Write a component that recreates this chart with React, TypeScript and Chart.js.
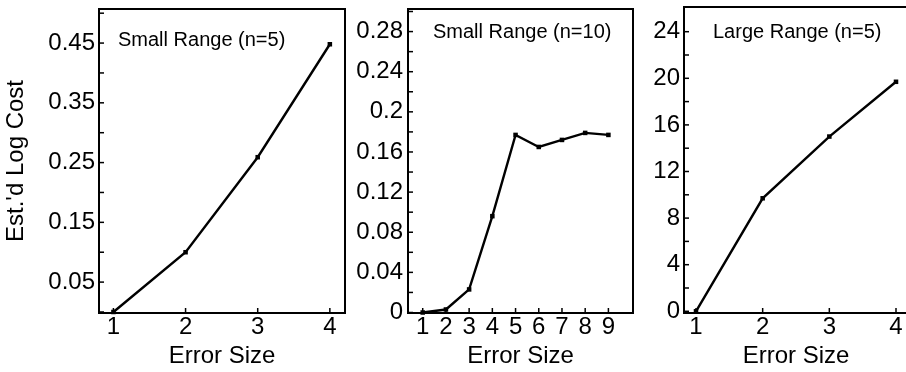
import React, { useEffect, useRef } from "react";
import { Chart, registerables } from "chart.js";

Chart.register(...registerables);

// ---------- data ----------
const xAxisTitle = "Error Size";
const yAxisTitle = "Est.'d Log Cost";

const panel1Title = "Small Range (n=5)";
const panel1ErrorSizes = [1, 2, 3, 4];
const panel1Costs = [0, 0.1, 0.259, 0.448];
const panel1XTicks = [1, 2, 3, 4];
const panel1YTicks = [0, 0.05, 0.1, 0.15, 0.2, 0.25, 0.3, 0.35, 0.4, 0.45, 0.5];
const panel1YTickLabels = ["", "0.05", "", "0.15", "", "0.25", "", "0.35", "", "0.45", ""];

const panel2Title = "Small Range (n=10)";
const panel2ErrorSizes = [1, 2, 3, 4, 5, 6, 7, 8, 9];
const panel2Costs = [0, 0.003, 0.023, 0.096, 0.177, 0.165, 0.172, 0.179, 0.177];
const panel2XTicks = [1, 2, 3, 4, 5, 6, 7, 8, 9];
const panel2YTicks = [0, 0.02, 0.04, 0.06, 0.08, 0.1, 0.12, 0.14, 0.16, 0.18, 0.2, 0.22, 0.24, 0.26, 0.28, 0.3];
const panel2YTickLabels = ["0", "", "0.04", "", "0.08", "", "0.12", "", "0.16", "", "0.2", "", "0.24", "", "0.28", ""];

const panel3Title = "Large Range (n=5)";
const panel3ErrorSizes = [1, 2, 3, 4];
const panel3Costs = [0, 9.7, 15.0, 19.7];
const panel3XTicks = [1, 2, 3, 4];
const panel3YTicks = [0, 2, 4, 6, 8, 10, 12, 14, 16, 18, 20, 22, 24];
const panel3YTickLabels = ["0", "", "4", "", "8", "", "12", "", "16", "", "20", "", "24"];

// ---------- styling / layout ----------
const FONT = "'Liberation Sans', Arial, Helvetica, sans-serif";
const H = 372;
const AXIS_FONT = 24;
const PANEL_TITLE_FONT = 20;

Chart.defaults.font.family = FONT;
Chart.defaults.color = "#000";

const framePlugin = {
  id: "frameAndTicks",
  afterDraw(chart: any) {
    const { ctx, chartArea: a } = chart;
    ctx.save();
    ctx.strokeStyle = "#000";
    // inward tick marks
    ctx.lineWidth = 1.5;
    const ys = chart.scales.y;
    ys.ticks.forEach((t: any) => {
      const p = ys.getPixelForValue(t.value);
      ctx.beginPath();
      ctx.moveTo(a.left, p);
      ctx.lineTo(a.left + 5, p);
      ctx.stroke();
    });
    const xs = chart.scales.x;
    xs.ticks.forEach((t: any) => {
      const p = xs.getPixelForValue(t.value);
      ctx.beginPath();
      ctx.moveTo(p, a.bottom);
      ctx.lineTo(p, a.bottom - 5);
      ctx.stroke();
    });
    // frame
    ctx.lineWidth = 2;
    ctx.strokeRect(a.left, a.top, a.right - a.left, a.bottom - a.top);
    ctx.restore();
  },
};

const panelTitlePlugin = {
  id: "panelTitle",
  afterDraw(chart: any, _args: any, opts: any) {
    const { ctx } = chart;
    ctx.save();
    ctx.font = `${PANEL_TITLE_FONT}px ${FONT}`;
    ctx.fillStyle = "#000";
    ctx.textAlign = "left";
    ctx.textBaseline = "middle";
    ctx.fillText(opts.text, opts.x, opts.y);
    ctx.restore();
  },
};

type PanelCfg = {
  canvasW: number;
  left: number;
  right: number;
  top: number;
  bottom: number;
  yAxisW: number;
  xMin: number;
  xMax: number;
  yMin: number;
  yMax: number;
  xs: number[];
  ys: number[];
  xTicks: number[];
  yTicks: number[];
  yTickLabels: string[];
  title: string;
  titleX: number;
  titleY: number;
  showYTitle: boolean;
  yTickPad: number;
};

const panels: PanelCfg[] = [
  {
    canvasW: 906, left: 99, right: 345, top: 9, bottom: 313, yAxisW: 99,
    xMin: 0.8, xMax: 4.21, yMin: -0.0017, yMax: 0.507,
    xs: panel1ErrorSizes, ys: panel1Costs, xTicks: panel1XTicks,
    yTicks: panel1YTicks, yTickLabels: panel1YTickLabels,
    title: panel1Title, titleX: 118, titleY: 40, showYTitle: true, yTickPad: 4,
  },
  {
    canvasW: 906, left: 408, right: 633, top: 9, bottom: 313, yAxisW: 60,
    xMin: 0.366, xMax: 10.06, yMin: -0.0005, yMax: 0.3025,
    xs: panel2ErrorSizes, ys: panel2Costs, xTicks: panel2XTicks,
    yTicks: panel2YTicks, yTickLabels: panel2YTickLabels,
    title: panel2Title, titleX: 433, titleY: 32, showYTitle: false, yTickPad: 5,
  },
  {
    canvasW: 912, left: 684, right: 908, top: 7, bottom: 313, yAxisW: 50,
    xMin: 0.82, xMax: 4.18, yMin: -0.146, yMax: 26.12,
    xs: panel3ErrorSizes, ys: panel3Costs, xTicks: panel3XTicks,
    yTicks: panel3YTicks, yTickLabels: panel3YTickLabels,
    title: panel3Title, titleX: 713, titleY: 32, showYTitle: false, yTickPad: 4,
  },
];

function Panel({ cfg }: { cfg: PanelCfg }) {
  const ref = useRef<HTMLCanvasElement>(null);
  useEffect(() => {
    const chart = new Chart(ref.current as HTMLCanvasElement, {
      type: "line",
      data: {
        datasets: [
          {
            data: cfg.xs.map((x, i) => ({ x, y: cfg.ys[i] })),
            borderColor: "#000",
            backgroundColor: "#000",
            borderWidth: 2.4,
            pointStyle: "rect",
            pointRadius: 3.2,
            pointBackgroundColor: "#000",
            pointBorderWidth: 0,
            tension: 0,
            clip: false as any,
          },
        ],
      },
      options: {
        animation: false,
        responsive: false,
        devicePixelRatio: 1,
        layout: {
          padding: {
            left: cfg.left - cfg.yAxisW,
            right: cfg.canvasW - cfg.right,
            top: cfg.top,
            bottom: 0,
          },
        },
        plugins: {
          legend: { display: false },
          tooltip: { enabled: false },
          panelTitle: { text: cfg.title, x: cfg.titleX, y: cfg.titleY },
        } as any,
        scales: {
          x: {
            type: "linear",
            min: cfg.xMin,
            max: cfg.xMax,
            grid: { display: false, drawTicks: false },
            border: { display: false },
            afterBuildTicks: (s: any) => {
              s.ticks = cfg.xTicks.map((v) => ({ value: v }));
            },
            afterFit: (s: any) => {
              s.height = H - cfg.bottom;
              s.paddingLeft = 0;
              s.paddingRight = 0;
            },
            ticks: {
              autoSkip: false,
              maxRotation: 0,
              minRotation: 0,
              padding: 0,
              color: "#000",
              font: { size: AXIS_FONT },
              callback: (v: any) => String(v),
            },
            title: {
              display: true,
              text: xAxisTitle,
              color: "#000",
              font: { size: AXIS_FONT },
              padding: { top: 0, bottom: 1 },
            },
          },
          y: {
            type: "linear",
            min: cfg.yMin,
            max: cfg.yMax,
            grid: { display: false, drawTicks: false },
            border: { display: false },
            afterBuildTicks: (s: any) => {
              s.ticks = cfg.yTicks.map((v) => ({ value: v }));
            },
            afterFit: (s: any) => {
              s.width = cfg.yAxisW;
              s.paddingTop = 0;
              s.paddingBottom = 0;
            },
            ticks: {
              autoSkip: false,
              padding: cfg.yTickPad,
              color: "#000",
              font: { size: AXIS_FONT },
              callback: function (this: any, _v: any, i: number) {
                return cfg.yTickLabels[i] ?? "";
              },
            },
            title: {
              display: cfg.showYTitle,
              text: yAxisTitle,
              color: "#000",
              font: { size: AXIS_FONT },
              padding: { top: 2, bottom: 0 },
            },
          },
        },
      },
      plugins: [framePlugin, panelTitlePlugin],
    } as any);
    return () => chart.destroy();
  }, [cfg]);
  return (
    <canvas
      ref={ref}
      width={cfg.canvasW}
      height={H}
      style={{ position: "absolute", left: 0, top: 0, width: cfg.canvasW, height: H }}
    />
  );
}

export default function App() {
  return (
    <div
      style={{
        position: "fixed",
        left: 0,
        top: 0,
        width: 906,
        height: H,
        overflow: "hidden",
        background: "#fff",
      }}
    >
      {panels.map((p, i) => (
        <Panel key={i} cfg={p} />
      ))}
    </div>
  );
}
